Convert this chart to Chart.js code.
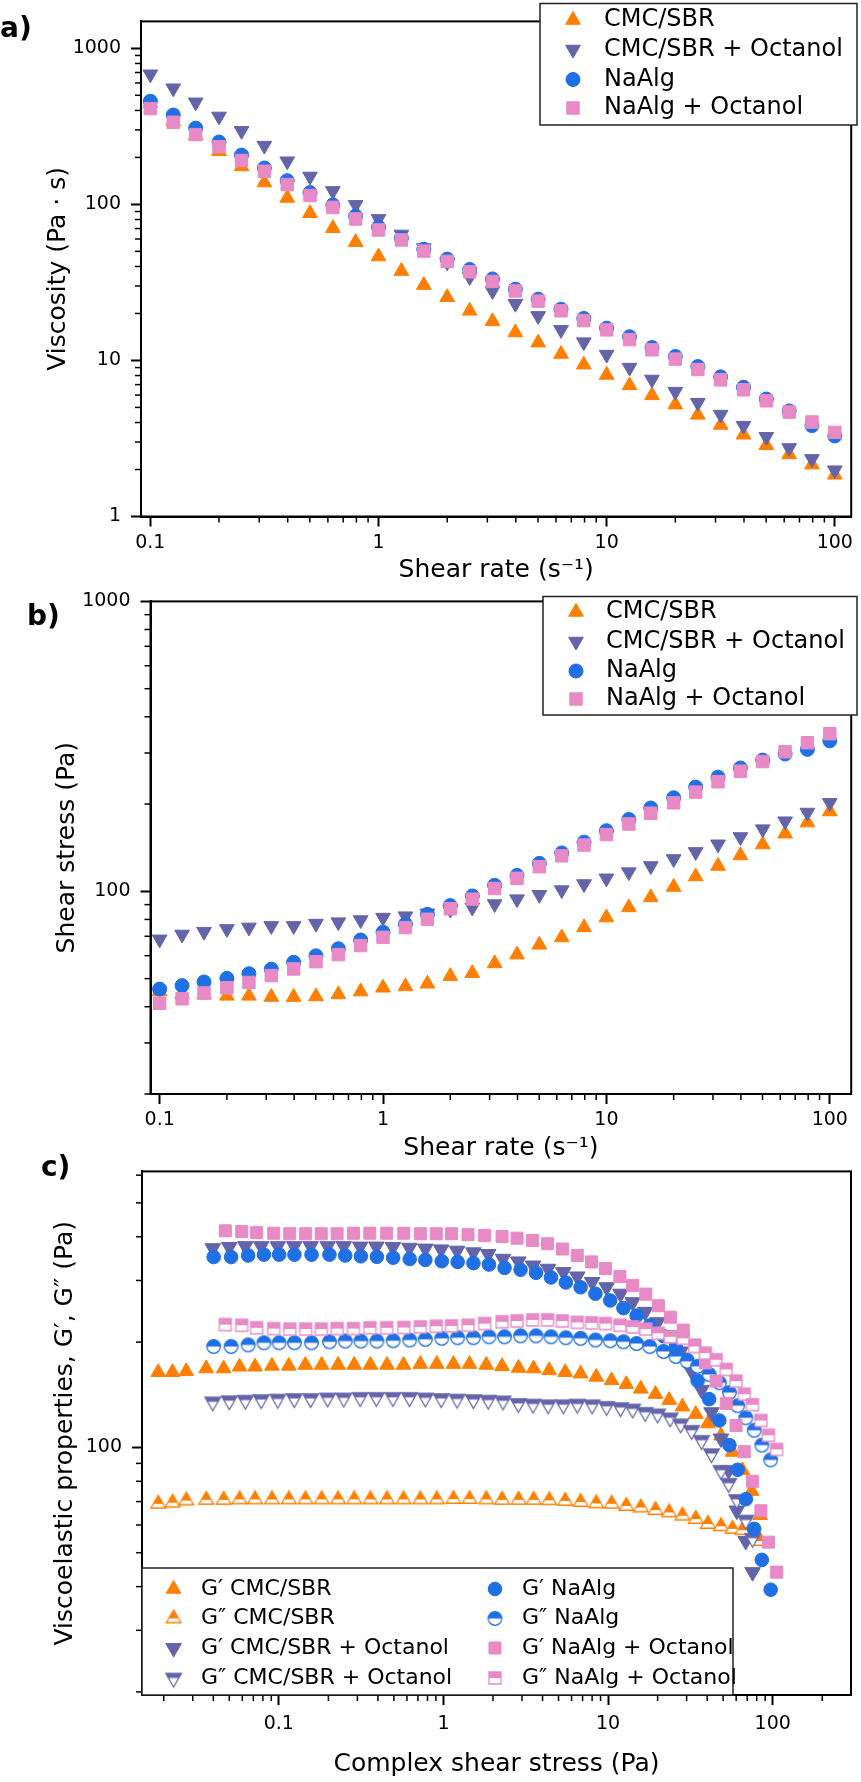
<!DOCTYPE html>
<html>
<head>
<meta charset="utf-8">
<script src="https://cdn.jsdelivr.net/npm/chart.js@4.4.1/dist/chart.umd.min.js"></script>
<style>
    html, body { margin: 0; padding: 0; background: #fff; }
    #page { position: relative; width: 861px; height: 1782px; overflow: hidden; }
    canvas { position: absolute; left: 0; }
    .tag { position: absolute; font: bold 28px "DejaVu Sans", sans-serif; line-height: 28px; color: #000; }
</style>
</head>
<body>
<div id="page">
    <canvas id="chartA" width="861" height="590" style="top:0;width:861px;height:590px"></canvas>
    <canvas id="chartB" width="861" height="585" style="top:580px;width:861px;height:585px"></canvas>
    <canvas id="chartC" width="861" height="632" style="top:1150px;width:861px;height:632px"></canvas>
    <div class="tag" style="left:0;top:14px">a)</div>
    <div class="tag" style="left:27px;top:602px">b)</div>
    <div class="tag" style="left:41px;top:1153px">c)</div>
</div>
<script>
// ---------- data: a) viscosity, b) shear stress vs shear rate ----------
const shearRate = [0.1, 0.126, 0.158, 0.2, 0.251, 0.316, 0.398, 0.501, 0.631, 0.794,
    1, 1.26, 1.58, 2, 2.51, 3.16, 3.98, 5.01, 6.31, 7.94,
    10, 12.6, 15.8, 20, 25.1, 31.6, 39.8, 50.1, 63.1, 79.4, 100];

const viscCmc = [446, 340, 276, 219, 175, 138, 110, 87.7, 70.4, 57.3,
    46.3, 37.4, 30.4, 25.4, 20.8, 17.8, 15.1, 13.0, 11.0, 9.4,
    8.07, 6.92, 5.97, 5.21, 4.48, 3.86, 3.34, 2.86, 2.50, 2.15, 1.85];
const viscCmcOct = [682, 555, 451, 366, 296, 238, 189, 151, 122, 99.3,
    80.7, 64.2, 52.5, 42.6, 34.3, 27.9, 23.1, 19.3, 15.7, 13.1,
    10.9, 9.0, 7.55, 6.31, 5.36, 4.50, 3.82, 3.24, 2.75, 2.34, 1.98];
const viscNa = [458, 374, 308, 251, 207, 171, 142, 119, 99.3, 84.3,
    71.6, 60.8, 51.6, 44.6, 38.3, 33.3, 28.6, 24.7, 21.3, 18.6,
    16.1, 14.2, 12.1, 10.6, 9.14, 7.85, 6.73, 5.66, 4.75, 3.82, 3.28];
const viscNaOct = [411, 336, 280, 234, 191, 163, 134, 114, 95.7, 80.7,
    68.6, 59.2, 50.2, 43.1, 37.0, 32.1, 27.9, 24.0, 20.8, 18.0,
    15.7, 13.6, 11.7, 10.2, 8.75, 7.51, 6.49, 5.51, 4.67, 4.03, 3.46];

const stressCmc = [45.1, 44.1, 44.0, 43.6, 43.6, 43.2, 43.2, 43.4, 44.1, 45.1,
    46.5, 47.0, 48.0, 51.0, 52.2, 56.4, 60.5, 65.4, 69.3, 75.1,
    81.2, 88.0, 95.3, 103.5, 112.5, 122.3, 133, 145, 158, 172.6, 188.5];
const stressCmcOct = [68.3, 71.0, 72.6, 74.2, 75.1, 76.0, 76.0, 77.4, 78.3, 79.6,
    81.2, 82.1, 84.0, 86.5, 88.0, 90.4, 94.0, 97.3, 101, 106,
    110.9, 116.5, 122.3, 129.3, 136.8, 145.3, 154, 163.9, 174.5, 187, 202];
const stressNa = [46.0, 47.3, 48.7, 50.1, 52.0, 53.9, 56.9, 59.9, 63.4, 68.0,
    72.3, 77.1, 83.3, 89.3, 96.4, 104.9, 113.5, 124.9, 135.7, 147.8,
    161.9, 177, 193.8, 210.2, 228.9, 247.7, 266.4, 283.6, 297.6, 308.7, 330.5];
const stressNaOct = [41.1, 42.6, 44.6, 46.5, 48.5, 51.2, 54.0, 57.2, 60.5, 65.0,
    69.4, 75.0, 80.1, 87.1, 94.0, 102.3, 110.9, 121.6, 132.6, 144.4,
    157.0, 170.7, 186.0, 202.0, 219.9, 238.8, 259.6, 280.3, 303.0, 325.6, 349.8];

// ---------- data: c) amplitude sweep, G' and G'' vs complex shear stress ----------
const tauCmc = [0.0185, 0.0226, 0.0274, 0.0362, 0.0462, 0.0577, 0.0717, 0.0908, 0.115, 0.145,
    0.182, 0.229, 0.287, 0.36, 0.454, 0.572, 0.724, 0.911, 1.15, 1.44,
    1.82, 2.27, 2.86, 3.53, 4.39, 5.49, 6.81, 8.47, 10.5, 12.9,
    15.8, 19.4, 23.5, 28.3, 34.1, 40.4, 48.5, 57, 65.5, 74.5, 84];
const gpCmc = [164, 164, 165, 168, 168, 170, 170, 171, 171, 172,
    172, 172, 172, 172, 172, 172, 173, 173, 173, 173,
    172, 170.5, 168.7, 168, 166, 164, 162.4, 159, 155.4, 151.5,
    147, 142, 136.5, 130.7, 124.5, 117, 108, 97, 86, 75, 64];
const gppCmc = [69, 69.5, 70.5, 70.8, 70.8, 71, 71, 71, 71, 71,
    71, 71, 71, 71, 71, 71, 71, 71, 71.2, 71.2,
    71, 70.8, 70.8, 70.8, 70.6, 70.3, 69.8, 69.2, 69.0, 68.0,
    67.3, 66.2, 65.2, 63.8, 62.4, 60.4, 59.5, 58.5, 58, 55.6, 54];

const tauCmcOct = [0.0397, 0.0500, 0.0626, 0.0781, 0.0985, 0.124, 0.156, 0.198, 0.248, 0.312,
    0.391, 0.493, 0.621, 0.776, 0.968, 1.21, 1.52, 1.87, 2.3, 2.85,
    3.5, 4.32, 5.35, 6.5, 8.0, 9.8, 11.9, 14.1, 16.8, 20.0,
    23.8, 27.6, 32.2, 37.0, 42.5, 48.5, 54, 60.5, 68.6, 75.5];
const gpCmcOct = [371, 374, 376, 376, 376, 376, 376, 376, 376, 375,
    375, 374, 372, 370, 368, 365, 361, 357, 346, 340,
    331, 324, 317, 308, 297, 287, 275, 260, 244, 228,
    209, 188, 165, 146, 126, 106, 86, 66, 54, 44];
const gppCmcOct = [135, 136, 136.5, 137, 137.5, 138, 138, 138.5, 138.5, 139,
    139, 139, 139, 138.5, 138, 137.5, 137, 136.5, 135.9, 133.6,
    133, 132.4, 132.4, 133, 132.4, 131, 130, 128.8, 126, 124.7,
    121.5, 116.8, 111.9, 104.8, 96, 86, 79, 71, 62, 55];

const tauNa = [0.0402, 0.0513, 0.0651, 0.0812, 0.1004, 0.1244, 0.158, 0.203, 0.253, 0.315,
    0.394, 0.495, 0.624, 0.776, 0.977, 1.22, 1.52, 1.89, 2.35, 2.94,
    3.65, 4.5, 5.54, 6.81, 8.38, 10.3, 12.4, 14.9, 17.9, 21.7,
    25.8, 30.2, 35, 41.1, 47.4, 54.6, 61.3, 68.7, 77.2, 85.9, 97.2];
const gpNa = [350, 350, 353.6, 355.5, 355.5, 355.5, 355.5, 355.5, 353.6, 351.7,
    350.5, 348.5, 345.4, 343.5, 340.5, 339, 336.3, 333.2, 326, 322,
    315.6, 306, 296, 286.8, 275, 263, 250, 238, 223, 208,
    194, 178, 155, 137.4, 119.4, 101.5, 86.3, 71.1, 58.5, 47.7, 39.2];
const gppNa = [194.2, 194.2, 196.3, 199.1, 199.1, 199.1, 199.1, 200.4, 201.3, 201.3,
    201.3, 201.8, 202.7, 203.6, 205, 205.8, 205.8, 207.1, 207.1, 208.4,
    208.4, 207.1, 205.8, 205, 202.7, 201.8, 200.4, 198.1, 194.2, 188,
    181.9, 176.2, 170.5, 161.6, 153, 143.5, 131.6, 121.5, 111.9, 101.5, 92.1];

const tauNaOct = [0.0473, 0.0595, 0.0733, 0.0931, 0.1165, 0.1455, 0.181, 0.226, 0.284, 0.357,
    0.452, 0.574, 0.724, 0.904, 1.12, 1.41, 1.78, 2.27, 2.80, 3.48,
    4.29, 5.28, 6.5, 7.94, 9.64, 11.8, 14.1, 16.95, 20.2, 23.9,
    28.6, 33.6, 39.0, 45.3, 52.2, 59.9, 67.2, 75.3, 84.8, 94.2, 105.7];
const gpNaOct = [416, 414, 411, 409.4, 408, 408, 408, 408, 409.4, 409.4,
    409.4, 409.4, 408, 408, 408, 405.5, 403.6, 400.6, 396.3, 390.2,
    382, 369, 353.6, 339, 324.5, 308, 290.5, 274.2, 254, 235.6,
    216.4, 196.3, 174.4, 154.7, 133.6, 115.5, 97.2, 80, 65.9, 53.6, 44.0];
const gppNaOct = [224.4, 223.4, 219.6, 218.6, 217.8, 217.8, 217.8, 218.6, 218.6, 219.6,
    219.6, 220.1, 221, 222, 222.5, 223.4, 225.9, 228.6, 229.8, 231.4,
    231.4, 229.8, 227.6, 227, 225.9, 223.4, 221, 217.8, 211.9, 207.1,
    205, 194.2, 186, 178, 167, 154.7, 141.9, 132.4, 119.4, 108.3, 98.7];

// ---------- labels and tick values ----------
const sampleNames = ['CMC/SBR', 'CMC/SBR + Octanol', 'NaAlg', 'NaAlg + Octanol'];
const modulusNames = ['G\u2032 CMC/SBR', 'G\u2033 CMC/SBR', 'G\u2032 CMC/SBR + Octanol', 'G\u2033 CMC/SBR + Octanol',
    'G\u2032 NaAlg', 'G\u2033 NaAlg', 'G\u2032 NaAlg + Octanol', 'G\u2033 NaAlg + Octanol'];
const rateTicks = [0.1, 1, 10, 100];
const viscTicks = [1, 10, 100, 1000];
const stressTicks = [100, 1000];
const tauTicks = [0.1, 1, 10, 100];
const modulusTicks = [100];

// ---------- colours ----------
const ORANGE = '#FF7F00';
const PURPLE = '#6464AA';
const BLUE = '#1F6FE5';
const PINK = '#E78AC6';

Chart.defaults.font.family = '"DejaVu Sans", "Liberation Sans", sans-serif';
Chart.defaults.font.size = 19;
Chart.defaults.color = '#000';
Chart.defaults.animation = false;

const pts = (xs, ys) => xs.map((x, i) => ({ x: x, y: ys[i] }));

// half-filled marker (top half coloured, bottom half white) for G''
function halfMarker(shape, color, r) {
    const c = document.createElement('canvas');
    c.width = c.height = Math.ceil(2 * r + 3);
    const g = c.getContext('2d');
    const m = c.width / 2;
    const path = () => {
        g.beginPath();
        if (shape === 'circle') {
            g.arc(m, m, r, 0, Math.PI * 2);
        } else if (shape === 'rect') {
            const s = r * Math.SQRT1_2;
            g.rect(m - s, m - s, 2 * s, 2 * s);
        } else {
            const k = shape === 'triDown' ? -1 : 1;
            g.moveTo(m, m - k * r);
            g.lineTo(m + 0.866 * r, m + k * r / 2);
            g.lineTo(m - 0.866 * r, m + k * r / 2);
            g.closePath();
        }
    };
    path();
    g.fillStyle = '#fff';
    g.fill();
    g.save();
    path();
    g.clip();
    g.fillStyle = color;
    g.fillRect(0, 0, c.width, m);
    g.restore();
    path();
    g.strokeStyle = color;
    g.lineWidth = 1.3;
    g.stroke();
    return c;
}

function marker(style, color, r, rot) {
    return {
        pointStyle: style,
        pointRadius: r,
        pointHoverRadius: r,
        pointRotation: rot || 0,
        backgroundColor: color,
        borderColor: color,
        borderWidth: 1,
        showLine: false,
    };
}

// ---------- plugins ----------
const isDecade = v => Math.abs(Math.log10(v) - Math.round(Math.log10(v))) < 1e-6;

// box round the plot area
const framePlugin = {
    id: 'frame',
    afterDatasetsDraw(chart) {
        const a = chart.chartArea;
        const ctx = chart.ctx;
        ctx.save();
        ctx.strokeStyle = '#000';
        ctx.lineWidth = 2;
        ctx.strokeRect(a.left, a.top, a.right - a.left, a.bottom - a.top);
        ctx.restore();
    }
};

// short ticks at 2..9 of every decade
const minorTicksPlugin = {
    id: 'minorTicks',
    afterDraw(chart) {
        const ctx = chart.ctx;
        ctx.save();
        ctx.strokeStyle = '#000';
        ctx.lineWidth = 1.5;
        ['x', 'y'].forEach(id => {
            const s = chart.scales[id];
            const e0 = Math.floor(Math.log10(s.min));
            const e1 = Math.ceil(Math.log10(s.max));
            for (let e = e0; e <= e1; e++) {
                for (let k = 2; k <= 9; k++) {
                    const v = k * Math.pow(10, e);
                    if (v < s.min || v > s.max) continue;
                    const p = s.getPixelForValue(v);
                    ctx.beginPath();
                    if (id === 'x') {
                        ctx.moveTo(p, s.top);
                        ctx.lineTo(p, s.top + 6);
                    } else {
                        ctx.moveTo(s.right, p);
                        ctx.lineTo(s.right - 6, p);
                    }
                    ctx.stroke();
                }
            }
        });
        ctx.restore();
    }
};

// framed legend placed inside the plot
const boxLegendPlugin = {
    id: 'boxLegend',
    afterDraw(chart, args, o) {
        if (!o || !o.box) return;
        const ctx = chart.ctx;
        const [x0, y0, x1, y1] = o.box;
        ctx.save();
        ctx.fillStyle = '#fff';
        ctx.fillRect(x0, y0, x1 - x0, y1 - y0);
        ctx.strokeStyle = '#222';
        ctx.lineWidth = 1.5;
        ctx.strokeRect(x0, y0, x1 - x0, y1 - y0);
        ctx.font = o.fontSize + 'px "DejaVu Sans", sans-serif';
        ctx.textBaseline = 'middle';
        ctx.textAlign = 'left';
        chart.data.datasets.forEach((ds, i) => {
            const col = Math.floor(i / o.perCol);
            const y = o.rowY[i % o.perCol];
            ctx.fillStyle = ds.backgroundColor;
            ctx.strokeStyle = ds.borderColor;
            ctx.lineWidth = ds.borderWidth;
            Chart.helpers.drawPoint(ctx, {
                pointStyle: ds.pointStyle,
                radius: ds.pointRadius,
                rotation: ds.pointRotation,
                borderWidth: ds.borderWidth
            }, o.markerX[col], y);
            ctx.fillStyle = '#000';
            ctx.fillText(ds.label, o.textX[col], y);
        });
        ctx.restore();
    }
};

function logAxis(opts) {
    return {
        type: 'logarithmic',
        min: opts.min,
        max: opts.max,
        afterBuildTicks: s => { s.ticks = opts.ticks.map(v => ({ value: v })); },
        afterFit: s => {
            if (opts.width !== undefined) s.width = opts.width;
            if (opts.height !== undefined) s.height = opts.height;
        },
        border: { display: true, color: '#000', width: 2 },
        grid: { drawOnChartArea: false, drawTicks: true, tickLength: 10, tickWidth: 2, tickColor: '#000' },
        ticks: {
            autoSkip: false,
            maxRotation: 0,
            padding: opts.tickPad,
            font: { size: 19 },
            color: '#000',
            callback: v => isDecade(v) ? String(v) : ''
        },
        title: {
            display: true,
            text: opts.title,
            color: '#000',
            font: { size: 25 },
            padding: opts.titlePad
        }
    };
}

function baseOptions(p) {
    return {
        responsive: false,
        devicePixelRatio: 1,
        animation: false,
        layout: { padding: p.padding },
        plugins: {
            legend: { display: false },
            tooltip: { enabled: false },
            boxLegend: p.legend
        },
        scales: { x: p.x, y: p.y }
    };
}

// ---------- a) viscosity ----------
function initViscosityChart() {
    const styles = [
        marker('triangle', ORANGE, 8.5),
        marker('triangle', PURPLE, 8.5, 180),
        marker('circle', BLUE, 7),
        marker('rect', PINK, 8.8)
    ];
    const series = [viscCmc, viscCmcOct, viscNa, viscNaOct];
    new Chart(document.getElementById('chartA'), {
        type: 'scatter',
        data: {
            datasets: series.map((ys, i) => Object.assign({
                label: sampleNames[i],
                data: pts(shearRate, ys),
                order: 4 - i
            }, styles[i]))
        },
        options: baseOptions({
            padding: { left: 0, right: 3, top: 3.5, bottom: 0 },
            legend: { box: [540, 3.5, 857, 125], perCol: 4, markerX: [573], textX: [604],
                rowY: [20, 49.5, 79.5, 108], fontSize: 24 },
            x: logAxis({ min: 0.091, max: 118, ticks: rateTicks, height: 73.5, tickPad: 5,
                title: 'Shear rate (s\u207B\u00B9)', titlePad: { top: 0, bottom: 5 } }),
            y: logAxis({ min: 1, max: 1488, ticks: viscTicks, width: 141, tickPad: 10,
                title: 'Viscosity (Pa \u00B7 s)', titlePad: { top: 43, bottom: 0 } })
        }),
        plugins: [framePlugin, minorTicksPlugin, boxLegendPlugin]
    });
}

// ---------- b) shear stress ----------
function initStressChart() {
    const styles = [
        marker('triangle', ORANGE, 8.5),
        marker('triangle', PURPLE, 8.5, 180),
        marker('circle', BLUE, 7),
        marker('rect', PINK, 8.8)
    ];
    const series = [stressCmc, stressCmcOct, stressNa, stressNaOct];
    new Chart(document.getElementById('chartB'), {
        type: 'scatter',
        data: {
            datasets: series.map((ys, i) => Object.assign({
                label: sampleNames[i],
                data: pts(shearRate, ys),
                order: 4 - i
            }, styles[i]))
        },
        options: baseOptions({
            padding: { left: 0, right: 3, top: 16.5, bottom: 0 },
            legend: { box: [543, 16.5, 857, 135], perCol: 4, markerX: [576], textX: [606],
                rowY: [32, 61.5, 91, 119], fontSize: 24 },
            x: logAxis({ min: 0.091, max: 124.7, ticks: rateTicks, height: 71, tickPad: 4.6,
                title: 'Shear rate (s\u207B\u00B9)', titlePad: { top: 0, bottom: 2 } }),
            y: logAxis({ min: 20, max: 1000, ticks: stressTicks, width: 150.5, tickPad: 10,
                title: 'Shear stress (Pa)', titlePad: { top: 52.5, bottom: 0 } })
        }),
        plugins: [framePlugin, minorTicksPlugin, boxLegendPlugin]
    });
}

// ---------- c) viscoelastic moduli ----------
function initModulusChart() {
    const styles = [
        marker('triangle', ORANGE, 8.5),
        marker(halfMarker('triUp', ORANGE, 8.5), ORANGE, 8.5),
        marker('triangle', PURPLE, 9, 180),
        marker(halfMarker('triDown', PURPLE, 9), PURPLE, 9),
        marker('circle', BLUE, 6.8),
        marker(halfMarker('circle', BLUE, 6.8), BLUE, 6.8),
        marker('rect', PINK, 8.5),
        marker(halfMarker('rect', PINK, 8.5), PINK, 8.5)
    ];
    const xs = [tauCmc, tauCmc, tauCmcOct, tauCmcOct, tauNa, tauNa, tauNaOct, tauNaOct];
    const ys = [gpCmc, gppCmc, gpCmcOct, gppCmcOct, gpNa, gppNa, gpNaOct, gppNaOct];
    new Chart(document.getElementById('chartC'), {
        type: 'scatter',
        data: {
            datasets: ys.map((y, i) => Object.assign({
                label: modulusNames[i],
                data: pts(xs[i], y),
                order: 8 - i
            }, styles[i]))
        },
        options: baseOptions({
            padding: { left: 0, right: 4, top: 14, bottom: 0 },
            legend: { box: [142, 418, 733, 545], perCol: 4, markerX: [173.6, 495], textX: [201, 522],
                rowY: [439, 468.5, 498, 528], fontSize: 22 },
            x: logAxis({ min: 0.01475, max: 299, ticks: tauTicks, height: 87, tickPad: 7.6,
                title: 'Complex shear stress (Pa)', titlePad: { top: 0, bottom: 3 } }),
            y: logAxis({ min: 19.6, max: 615, ticks: modulusTicks, width: 142, tickPad: 10,
                title: 'Viscoelastic properties, G\u2032, G\u2033 (Pa)', titlePad: { top: 50, bottom: 0 } })
        }),
        plugins: [framePlugin, minorTicksPlugin, boxLegendPlugin]
    });
}

initViscosityChart();
initStressChart();
initModulusChart();
</script>
</body>
</html>
